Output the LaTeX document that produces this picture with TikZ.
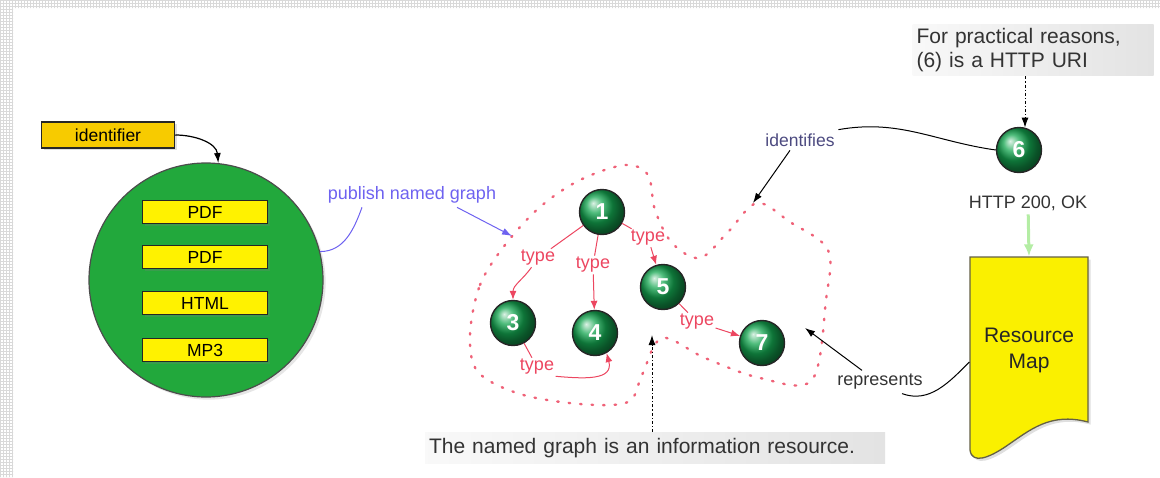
\documentclass[tikz,border=0pt]{standalone}
\usepackage{fontspec}
\setmainfont{Liberation Sans}
\usepackage{tikz}
\usetikzlibrary{arrows.meta,positioning,calc,shadows,patterns}
\definecolor{bagGreen}{HTML}{22A83C}
\definecolor{ballGreen}{HTML}{14A650}
\definecolor{typeRed}{HTML}{EC4660}
\definecolor{pubBlue}{HTML}{6E62F0}
\definecolor{idBlue}{HTML}{4C4A80}
\definecolor{okGreen}{HTML}{B4EDA4}
\definecolor{idYellow}{HTML}{F7CB00}
\definecolor{mapYellow}{HTML}{FAF000}

\tikzset{
  ball/.style = {circle, draw=black!85, line width=1.4pt, ball color=ballGreen, minimum size=45pt, inner sep=0pt, text=white, font=\fontsize{23}{23}\selectfont\bfseries},
  fmtbox/.style = {draw=black!85, line width=1.5pt, fill=yellow, minimum width=125pt, minimum height=23pt, inner sep=0pt, font=\fontsize{17.5}{17.5}\selectfont, drop shadow={opacity=0.25, shadow xshift=2pt, shadow yshift=-2pt}},
  note/.style = {left color=gray!5, right color=gray!22, text=black!80, inner sep=4pt, font=\fontsize{21}{24}\selectfont},
  typelbl/.style = {text=typeRed, inner sep=1pt, font=\fontsize{18}{18}\selectfont},
  typearrow/.style = {typeRed, line width=1pt, -{Latex[length=9pt,width=7pt]}},
}

\begin{document}
\begin{tikzpicture}[x=1pt, y=-1pt, >={Latex[length=10pt,width=7pt]}, line width=1.2pt]
  \useasboundingbox (0,0) rectangle (1160,477);
  \fill [pattern=grid, pattern color=gray!30] (0,0) rectangle (1160,8) (0,8) rectangle (13,477);

  \node [circle, draw=black!70, line width=1.2pt, fill=bagGreen, minimum size=234pt, drop shadow={opacity=0.2}] (bag) at (206,280) {};
  \node [fmtbox] (pdfa) at (205,212) {PDF};
  \node [fmtbox] (pdfb) at (205,257) {PDF};
  \node [fmtbox] (html) at (205,303) {HTML};
  \node [fmtbox] (mp) at (205,350) {MP3};
  \node [fmtbox, fill=idYellow, minimum width=133pt, minimum height=26pt] (ident) at (108,135) {identifier};
  \draw [->] (ident.east) to [out=0, in=95] (bag.84);

  \node [text=pubBlue, font=\fontsize{18}{18}\selectfont] (pub) at (412,195) {publish named graph};

  \draw [typeRed!85, line width=2.4pt, dash pattern=on 1.5pt off 10pt, line cap=round] plot [smooth cycle, tension=0.55] coordinates {
    (470,335) (480,285) (505,245) (540,207) (580,180) (625,165) (648,175) (655,210) (672,243) (700,258)
    (728,232) (757,203) (790,222) (828,250) (826,300) (812,380) (760,378) (705,358) (662,338)
    (642,375) (628,402) (580,404) (520,394) (478,372)};
  \coordinate (pubtip) at (512,236);
  \coordinate (idtip) at (753,203);
  \coordinate (reptip) at (805,328);
  \coordinate (infotip) at (652,335);

  \draw [pubBlue, line width=1pt] (bag.14) to [out=0, in=250] ([xshift=-50pt]pub.south);
  \draw [pubBlue, line width=1pt, ->] ([xshift=45pt]pub.south) -- (pubtip);

  \node [ball] (n1) at (602,212) {1};
  \node [ball] (n3) at (513,323) {3};
  \node [ball] (n4) at (595,333) {4};
  \node [ball] (n5) at (663,287) {5};
  \node [ball] (n7) at (762,343) {7};
  \node [ball] (n6) at (1019,150) {6};

  \node [typelbl] (t13) at (538,258) {type};
  \node [typelbl] (t14) at (593,265) {type};
  \node [typelbl] (t15) at (648,238) {type};
  \node [typelbl] (t57) at (697,322) {type};
  \node [typelbl] (t34) at (537,367) {type};
  \draw [typearrow] (n1) -- (t13) to [out=235, in=90] (n3);
  \draw [typearrow] (n1) -- (t14) -- (n4);
  \draw [typearrow] (n1) -- (t15) -- (n5);
  \draw [typearrow] (n5) -- (t57) -- (n7);
  \draw [typearrow] (n3) -- (t34) (t34.south east) to [out=-5, in=-75, looseness=1.3] (n4.-60);

  \node [text=idBlue, font=\fontsize{17.5}{17.5}\selectfont] (idf) at (800,140) {identifies};
  \draw [line width=1pt] (n6.west) to [out=172, in=10] (idf.north east);
  \draw [->, line width=1pt] ([xshift=-10pt]idf.south) -- (idtip);

  \node [note, text width=233pt, minimum height=51pt, align=left] (note6) at (1033,50) {For practical reasons,\\(6) is a HTTP URI};
  \draw [->, dashdotted, line width=1pt] (note6.south -| n6.75) -- (n6.75);

  \draw [draw=black!70!yellow, line width=1.3pt, fill=mapYellow, drop shadow={opacity=0.25}] (970,257) -- (1088,257) -- (1088,422)
    .. controls (1050,412) and (1030,430) .. (1005,447) .. controls (990,457) and (972,465) .. (970,450) -- cycle;
  \node [minimum width=118pt, minimum height=186pt, align=center, font=\fontsize{21}{26}\selectfont, text=black!85] (map) at (1029,350) {Resource\\Map};

  \node [font=\fontsize{18}{18}\selectfont, text=black!80] (http) at (1028,203) {HTTP 200, OK};
  \draw [okGreen, line width=3pt, -{Latex[length=12pt,width=10pt]}] (http) -- (map.north);

  \node [font=\fontsize{18}{18}\selectfont, text=black!80] (rep) at (880,382) {represents};
  \draw [line width=1pt] ([yshift=-12pt]map.west) to [out=225, in=-20] ([xshift=22pt]rep.south);
  \draw [->, line width=1pt] ([xshift=-18pt]rep.north) -- (reptip);

  \node [note, text width=452pt, minimum height=31pt, align=left] (info) at (655,448) {The named graph is an information resource.};
  \draw [->, dashdotted, line width=1pt] (info.north -| infotip) -- (infotip);
\end{tikzpicture}
\end{document}
